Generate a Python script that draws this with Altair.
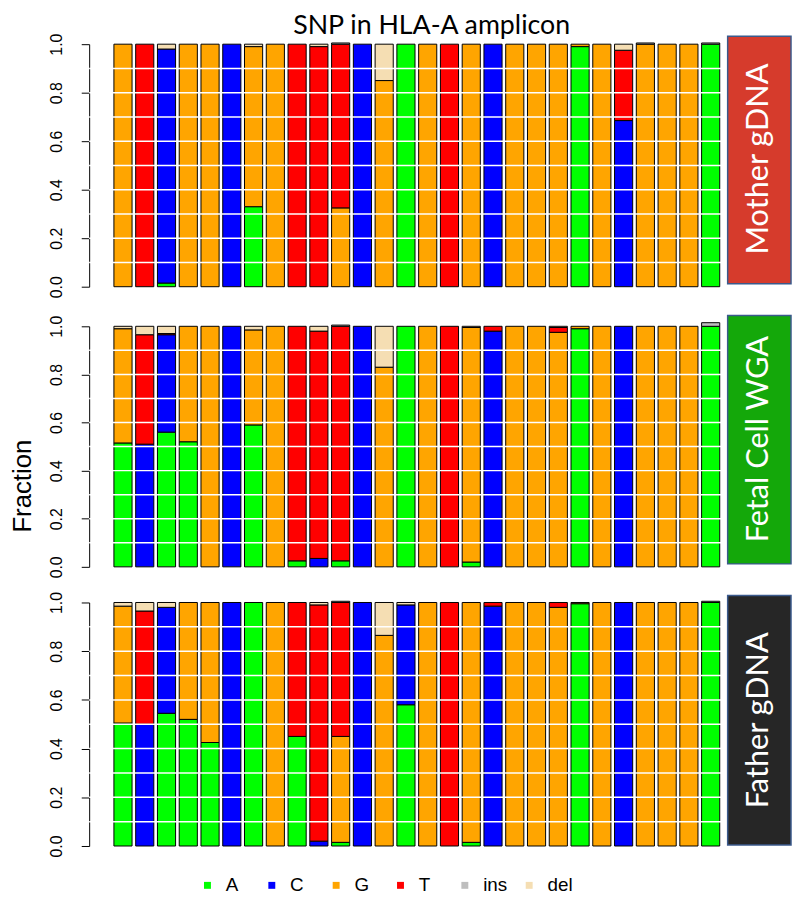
import altair as alt
import pandas as pd

positions = list(range(1, 29))
bases = ["A", "C", "G", "T", "ins", "del"]
base_colors = ["#00FF00", "#0000FF", "#FFA500", "#FF0000", "#BEBEBE", "#F5DEB3"]
grid_levels = [0.1, 0.2, 0.3, 0.4, 0.5, 0.6, 0.7, 0.8, 0.9]
y_ticks = [0.0, 0.2, 0.4, 0.6, 0.8, 1.0]
chart_title = "SNP in HLA-A amplicon"

# Mother gDNA
mother_A = [0, 0, 0.015, 0, 0, 0, 0.33, 0, 0, 0, 0, 0, 0, 1, 0, 0, 0, 0, 0, 0, 0, 0.99, 0, 0, 0, 0, 0, 1]
mother_C = [0, 0, 0.965, 0, 0, 1, 0, 0, 0, 0, 0, 1, 0, 0, 0, 0, 0, 1, 0, 0, 0, 0, 0, 0.685, 0, 0, 0, 0]
mother_G = [1, 0, 0, 1, 1, 0, 0.66, 1, 0, 0, 0.325, 0, 0.85, 0, 1, 0, 1, 0, 1, 1, 1, 0.01, 1, 0, 1, 1, 1, 0]
mother_T = [0, 1, 0, 0, 0, 0, 0, 0, 1, 0.99, 0.675, 0, 0, 0, 0, 1, 0, 0, 0, 0, 0, 0, 0, 0.29, 0, 0, 0, 0]
mother_ins = [0, 0, 0, 0, 0, 0, 0, 0, 0, 0, 0.005, 0, 0, 0, 0, 0, 0, 0, 0, 0, 0, 0, 0, 0, 0.005, 0, 0, 0.005]
mother_del = [0, 0, 0.02, 0, 0, 0, 0.01, 0, 0, 0.01, 0, 0, 0.15, 0, 0, 0, 0, 0, 0, 0, 0, 0, 0, 0.025, 0, 0, 0, 0]

# Fetal Cell WGA
fetal_A = [0.515, 0, 0.56, 0.52, 0, 0, 0.59, 0, 0.025, 0, 0.025, 0, 0, 1, 0, 0, 0.02, 0, 0, 0, 0, 0.99, 0, 0, 0, 0, 0, 1]
fetal_C = [0, 0.51, 0.405, 0, 0, 1, 0, 0, 0, 0.035, 0, 1, 0, 0, 0, 0, 0, 0.98, 0, 0, 0, 0, 0, 1, 0, 0, 0, 0]
fetal_G = [0.475, 0, 0, 0.48, 1, 0, 0.395, 1, 0, 0, 0, 0, 0.83, 0, 1, 0, 0.975, 0, 1, 1, 0.975, 0.01, 1, 0, 1, 1, 1, 0]
fetal_T = [0, 0.455, 0.005, 0, 0, 0, 0, 0, 0.975, 0.945, 0.975, 0, 0, 0, 0, 1, 0, 0.02, 0, 0, 0.02, 0, 0, 0, 0, 0, 0, 0]
fetal_ins = [0, 0, 0, 0, 0, 0, 0, 0, 0, 0, 0.005, 0, 0, 0, 0, 0, 0, 0, 0, 0, 0, 0, 0, 0, 0, 0, 0, 0.015]
fetal_del = [0.01, 0.035, 0.03, 0, 0, 0, 0.015, 0, 0, 0.02, 0, 0, 0.17, 0, 0, 0, 0.005, 0, 0, 0, 0.005, 0, 0, 0, 0, 0, 0, 0]

# Father gDNA
father_A = [0.505, 0, 0.545, 0.52, 0.425, 0, 1, 0, 0.45, 0, 0.015, 0, 0, 0.58, 0, 0, 0.015, 0, 0, 0, 0, 0.995, 0, 0, 0, 0, 0, 1]
father_C = [0, 0.5, 0.435, 0, 0, 1, 0, 0, 0, 0.02, 0, 1, 0, 0.41, 0, 0, 0, 0.985, 0, 0, 0, 0, 0, 1, 0, 0, 0, 0]
father_G = [0.48, 0, 0, 0.48, 0.575, 0, 0, 1, 0, 0, 0.435, 0, 0.865, 0, 1, 0, 0.985, 0, 1, 1, 0.98, 0.005, 1, 0, 1, 1, 1, 0]
father_T = [0, 0.465, 0, 0, 0, 0, 0, 0, 0.55, 0.97, 0.55, 0, 0, 0, 0, 1, 0, 0.015, 0, 0, 0.02, 0, 0, 0, 0, 0, 0, 0]
father_ins = [0, 0, 0, 0, 0, 0, 0, 0, 0, 0, 0.005, 0, 0, 0, 0, 0, 0, 0, 0, 0, 0, 0, 0, 0, 0, 0, 0, 0.005]
father_del = [0.015, 0.035, 0.02, 0, 0, 0, 0, 0, 0, 0.01, 0, 0, 0.135, 0.01, 0, 0, 0, 0, 0, 0, 0, 0, 0, 0, 0, 0, 0, 0]

panel_names = ["Mother gDNA", "Fetal Cell WGA", "Father gDNA"]
panel_colors = ["#D63B2C", "#14A80A", "#262626"]

W = 662
heights = [245, 243, 246]
box_y = [(-8, 242), (-11, 240), (-7, 245)]
text_y = [116, 114, 119]
BOX_X0, BOX_X1 = 645, 709
BAR_X0, BAR_X1 = 25, 637


def long_frame(series):
    rows = []
    for bi, (b, vals) in enumerate(zip(bases, series)):
        for p, v in zip(positions, vals):
            if v > 0:
                rows.append({"pos": p, "base": b, "order": bi, "value": v})
    return pd.DataFrame(rows)


def panel(idx, series):
    h = heights[idx]
    df = long_frame(series)
    legend = alt.Legend(
        title=None, orient="none", legendX=110, legendY=840, direction="horizontal",
        columns=6, symbolType="square", symbolSize=49, symbolStrokeWidth=0,
        labelFontSize=19, labelFont="Liberation Sans", labelOffset=9,
        columnPadding=11, gridAlign="all", padding=0,
    )
    axis_kw = dict(
        values=y_ticks, format=".1f", grid=False, labelAngle=270,
        labelAlign="center", labelBaseline="bottom", labelFontSize=16,
        labelFont="Liberation Sans", labelColor="black", labelPadding=17,
        tickSize=8, tickColor="black", domainColor="black", tickWidth=1,
        domainWidth=1,
    )
    if idx == 1:
        axis_kw.update(
            title="Fraction", titleFontSize=26, titleFont="Liberation Sans",
            titleFontWeight="normal", titleColor="black", titleX=-67, titleY=161,
            titleAngle=270, titleAlign="center", titleBaseline="middle",
        )
    else:
        axis_kw.update(title=None)
    bars = alt.Chart(df).mark_bar(stroke="black", strokeWidth=1).encode(
        x=alt.X("pos:O", axis=None,
                scale=alt.Scale(paddingInner=0.1667, paddingOuter=0,
                                range=[BAR_X0, BAR_X1])),
        y=alt.Y("value:Q", stack="zero", axis=alt.Axis(**axis_kw),
                scale=alt.Scale(domain=[0, 1], nice=False, zero=True)),
        color=alt.Color("base:N", scale=alt.Scale(domain=bases, range=base_colors),
                        legend=legend),
        order=alt.Order("order:Q"),
    )
    grid = alt.Chart(pd.DataFrame({"g": grid_levels})).mark_rule(
        color="white", strokeWidth=1.5
    ).encode(y=alt.Y("g:Q"), x=alt.value(0), x2=alt.value(W))
    lab = pd.DataFrame({"label": [panel_names[idx]]})
    box = alt.Chart(lab).mark_rect(
        color=panel_colors[idx], stroke="#3B5A8C", strokeWidth=1.5
    ).encode(x=alt.value(BOX_X0), x2=alt.value(BOX_X1),
             y=alt.value(box_y[idx][0]), y2=alt.value(box_y[idx][1]))
    txt = alt.Chart(lab).mark_text(
        angle=270, color="white", fontSize=31, font="Lato",
        align="center", baseline="middle"
    ).encode(text="label:N", x=alt.value((BOX_X0 + BOX_X1) / 2),
             y=alt.value(text_y[idx]))
    layers = [bars, grid, box, txt]
    if idx == 0:
        ttl = alt.Chart(pd.DataFrame({"t": [chart_title]})).mark_text(
            fontSize=27, font="Lato", color="black", align="center",
            baseline="alphabetic"
        ).encode(text="t:N", x=alt.value(346), y=alt.value(-10))
        layers.append(ttl)
    return alt.layer(*layers).properties(width=W, height=h)


p1 = panel(0, [mother_A, mother_C, mother_G, mother_T, mother_ins, mother_del])
p2 = panel(1, [fetal_A, fetal_C, fetal_G, fetal_T, fetal_ins, fetal_del])
p3 = panel(2, [father_A, father_C, father_G, father_T, father_ins, father_del])

lower = alt.vconcat(p2, p3, spacing=36, bounds="flush")
chart = alt.vconcat(p1, lower, spacing=40, bounds="flush").properties(
    padding={"left": 2, "top": 0, "right": 0, "bottom": 0}
).configure_view(stroke=None)

chart.save("out.html", embed_options={"renderer": "svg", "actions": False})
